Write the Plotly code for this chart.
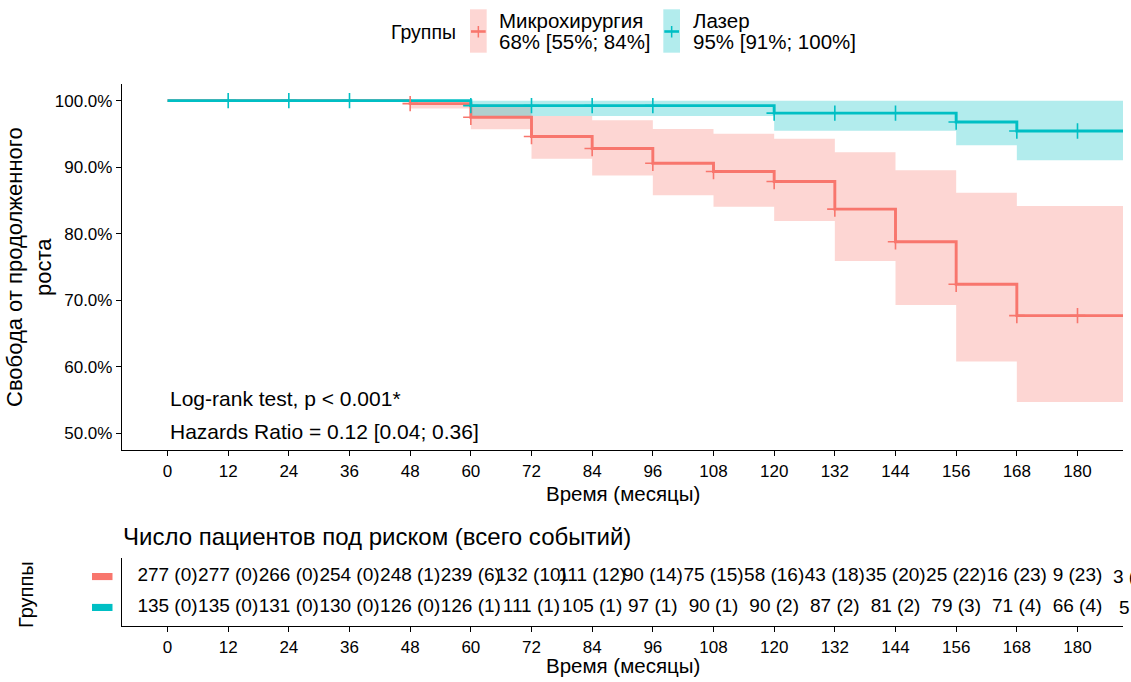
import numpy as np
import plotly.graph_objects as go

# ---------------- data ----------------
RED = "#F8766D"
TEAL = "#00BFC4"
RED_FILL = "rgba(248,118,109,0.3)"
TEAL_FILL = "rgba(0,191,196,0.3)"

group_names = ["Микрохирургия", "Лазер"]
group_ci_text = ["68% [55%; 84%]", "95% [91%; 100%]"]

# Kaplan-Meier steps (months, % survival) - Микрохирургия
micro_time = [0, 48, 60, 72, 84, 96, 108, 120, 132, 144, 156, 168, 192]
micro_surv = [100, 99.55, 97.5, 94.6, 92.8, 90.6, 89.35, 87.85, 83.7, 78.8, 72.4, 67.7, 67.7]
micro_upper = [100, 100, 99.45, 97.7, 97.05, 95.75, 95.03, 94.27, 92.23, 89.55, 86.14, 84.16, 84.16]
micro_lower = [100, 98.8, 95.7, 91.25, 88.75, 85.8, 84.05, 81.9, 75.9, 69.3, 60.8, 54.7, 54.7]
micro_censor = [48, 60, 72, 84, 96, 108, 120, 132, 144, 156, 168, 180]

# Лазер
laser_time = [0, 60, 120, 156, 168, 192]
laser_surv = [100, 99.25, 98.12, 96.8, 95.44, 95.44]
laser_upper = [100, 100, 100, 100, 100, 100]
laser_lower = [100, 97.7, 95.48, 93.3, 91.06, 91.06]
laser_censor = [12, 24, 36, 60, 72, 84, 96, 120, 132, 144, 156, 168, 180]

# risk table
risk_time = [0, 12, 24, 36, 48, 60, 72, 84, 96, 108, 120, 132, 144, 156, 168, 180, 192]
micro_risk = [277, 277, 266, 254, 248, 239, 132, 111, 90, 75, 58, 43, 35, 25, 16, 9, 3]
micro_events = [0, 0, 0, 0, 1, 6, 10, 12, 14, 15, 16, 18, 20, 22, 23, 23, 23]
laser_risk = [135, 135, 131, 130, 126, 126, 111, 105, 97, 90, 90, 87, 81, 79, 71, 66, 5]
laser_events = [0, 0, 0, 0, 0, 1, 1, 1, 1, 1, 2, 2, 2, 3, 4, 4, 4]

x_ticks = list(range(0, 181, 12))
y_ticks = [50, 60, 70, 80, 90, 100]
y_tick_text = [f"{v:.1f}%" for v in y_ticks]

stat_lines = ["Log-rank test, p < 0.001*", "Hazards Ratio = 0.12 [0.04; 0.36]"]

X_RANGE = [-9, 189]

# ---------------- layout helpers ----------------
W, H = 1131, 682
ML, MR = 122, 8
PW = W - ML - MR


def px_x(p):
    return (p - ML) / PW


def px_y(p):
    return (H - p) / H


def x_to_paper(t):
    # position along the shared time axis, as a fraction of the plot width
    return (t - X_RANGE[0]) / (X_RANGE[1] - X_RANGE[0])


FONT = "Liberation Sans, Arial, sans-serif"


def step_value(times, vals, t):
    i = np.searchsorted(np.array(times), t, side="right") - 1
    return vals[i]


fig = go.Figure()

# confidence bands
for t, lo, up, fc in [(micro_time, micro_lower, micro_upper, RED_FILL),
                      (laser_time, laser_lower, laser_upper, TEAL_FILL)]:
    fig.add_trace(go.Scatter(x=t, y=lo, mode="lines", line=dict(width=0, shape="hv"),
                             showlegend=False, hoverinfo="skip", xaxis="x", yaxis="y"))
    fig.add_trace(go.Scatter(x=t, y=up, mode="lines", line=dict(width=0, shape="hv"),
                             fill="tonexty", fillcolor=fc, showlegend=False,
                             hoverinfo="skip", xaxis="x", yaxis="y"))

# survival lines
for t, s, c in [(micro_time, micro_surv, RED), (laser_time, laser_surv, TEAL)]:
    fig.add_trace(go.Scatter(x=t, y=s, mode="lines", line=dict(width=2.9, shape="hv", color=c),
                             showlegend=False, hoverinfo="skip", xaxis="x", yaxis="y"))

# censor marks
for t, s, cens, c in [(micro_time, micro_surv, micro_censor, RED),
                      (laser_time, laser_surv, laser_censor, TEAL)]:
    ys = [step_value(t, s, ct) for ct in cens]
    fig.add_trace(go.Scatter(x=cens, y=ys, mode="markers",
                             marker=dict(symbol="cross-thin", size=11, line=dict(width=1.6, color=c)),
                             showlegend=False, hoverinfo="skip", xaxis="x", yaxis="y"))

ann = []
shapes = []

# risk table text
for yrow, nr, ev in [(2, micro_risk, micro_events), (1, laser_risk, laser_events)]:
    labels = [f"{n} ({e})" for n, e in zip(nr, ev)]
    inside = [i for i, t in enumerate(risk_time) if X_RANGE[0] <= t <= X_RANGE[1]]
    outside = [i for i, t in enumerate(risk_time) if not (X_RANGE[0] <= t <= X_RANGE[1])]
    fig.add_trace(go.Scatter(x=[risk_time[i] for i in inside], y=[yrow] * len(inside),
                             mode="text", text=[labels[i] for i in inside],
                             textposition="middle center",
                             textfont=dict(family=FONT, size=19, color="black"),
                             cliponaxis=False, showlegend=False, hoverinfo="skip",
                             xaxis="x2", yaxis="y2"))
    # entries beyond the visible time range (cut by the picture edge, as in the source)
    for i in outside:
        ann.append(dict(text=labels[i], x=x_to_paper(risk_time[i]), y=yrow, xref="paper",
                        yref="y2", xanchor="center", yanchor="middle", showarrow=False,
                        font=dict(family=FONT, size=19, color="black")))

axis_common = dict(showgrid=False, zeroline=False, showline=True, linecolor="black",
                   linewidth=1.3, ticks="outside", ticklen=5, tickcolor="black", tickwidth=1.2,
                   tickfont=dict(family=FONT, size=17, color="black"), automargin=False)

main_dom = [px_y(450), px_y(84)]
tab_dom = [px_y(626), px_y(558)]

fig.update_layout(
    width=W, height=H,
    margin=dict(l=ML, r=MR, t=0, b=0),
    paper_bgcolor="white", plot_bgcolor="white",
    showlegend=False,
    xaxis=dict(range=X_RANGE, tickvals=x_ticks, domain=[0, 1], anchor="y", **axis_common),
    yaxis=dict(range=[47.5, 102.5], tickvals=y_ticks, ticktext=y_tick_text,
               domain=main_dom, anchor="x", **axis_common),
    xaxis2=dict(range=X_RANGE, tickvals=x_ticks, domain=[0, 1], anchor="y2", **axis_common),
    yaxis2=dict(range=[0.4, 2.6], domain=tab_dom, anchor="x2", showgrid=False, zeroline=False,
                showline=True, linecolor="black", linewidth=1.3, ticks="",
                showticklabels=False, automargin=False),
)

# stats text
for txt, yv in zip(stat_lines, [55.3, 50.35]):
    ann.append(dict(text=txt, x=0, y=yv, xref="x", yref="y", xanchor="left", yanchor="middle",
                    showarrow=False, font=dict(family=FONT, size=21, color="black")))

# axis titles
ann.append(dict(text="Время (месяцы)", x=0.5, y=px_y(493), xref="paper", yref="paper",
                xanchor="center", yanchor="middle", showarrow=False,
                font=dict(family=FONT, size=20.5, color="black")))
ann.append(dict(text="Время (месяцы)", x=0.5, y=px_y(665), xref="paper", yref="paper",
                xanchor="center", yanchor="middle", showarrow=False,
                font=dict(family=FONT, size=20.5, color="black")))
ann.append(dict(text="Свобода от продолженного<br>роста", x=px_x(29), y=px_y(267),
                xref="paper", yref="paper", xanchor="center", yanchor="middle",
                textangle=-90, showarrow=False, font=dict(family=FONT, size=22, color="black")))
ann.append(dict(text="Группы", x=px_x(26), y=px_y(595), xref="paper", yref="paper",
                xanchor="center", yanchor="middle", textangle=-90, showarrow=False,
                font=dict(family=FONT, size=20, color="black")))
ann.append(dict(text="Число пациентов под риском (всего событий)", x=px_x(121), y=px_y(536),
                xref="paper", yref="paper", xanchor="left", yanchor="middle", showarrow=False,
                font=dict(family=FONT, size=24, color="black")))

# risk table colour keys
for yrow, c in [(2, RED), (1, TEAL)]:
    shapes.append(dict(type="rect", xref="paper", yref="y2", x0=px_x(92), x1=px_x(112.5),
                       y0=yrow - 0.115, y1=yrow + 0.115, fillcolor=c, line=dict(width=0)))

# legend (top)
ann.append(dict(text="Группы", x=px_x(389), y=px_y(32), xref="paper", yref="paper",
                xanchor="left", yanchor="middle", showarrow=False,
                font=dict(family=FONT, size=19.5, color="black")))
for (bx0, bx1, tx), name, ci, c, fc in zip([(470, 486.7, 497), (663.3, 680, 691)],
                                           group_names, group_ci_text,
                                           [RED, TEAL], [RED_FILL, TEAL_FILL]):
    shapes.append(dict(type="rect", xref="paper", yref="paper", x0=px_x(bx0), x1=px_x(bx1),
                       y0=px_y(52.7), y1=px_y(9.3), fillcolor=fc, line=dict(width=0)))
    cx = (bx0 + bx1) / 2
    shapes.append(dict(type="line", xref="paper", yref="paper", x0=px_x(bx0 + 1), x1=px_x(bx1 - 1),
                       y0=px_y(31.5), y1=px_y(31.5), line=dict(color=c, width=2.6)))
    shapes.append(dict(type="line", xref="paper", yref="paper", x0=px_x(cx), x1=px_x(cx),
                       y0=px_y(26), y1=px_y(37.5), line=dict(color=c, width=1.5)))
    ann.append(dict(text=name, x=px_x(tx), y=px_y(20.5), xref="paper", yref="paper",
                    xanchor="left", yanchor="middle", showarrow=False,
                    font=dict(family=FONT, size=20.5, color="black")))
    ann.append(dict(text=ci, x=px_x(tx), y=px_y(42), xref="paper", yref="paper",
                    xanchor="left", yanchor="middle", showarrow=False,
                    font=dict(family=FONT, size=20.5, color="black")))

fig.update_layout(annotations=ann, shapes=shapes)

fig.write_html("out.html",
               config={"displayModeBar": False},
               post_script="document.body.style.margin='0px';"
                           "document.body.style.overflow='hidden';")
